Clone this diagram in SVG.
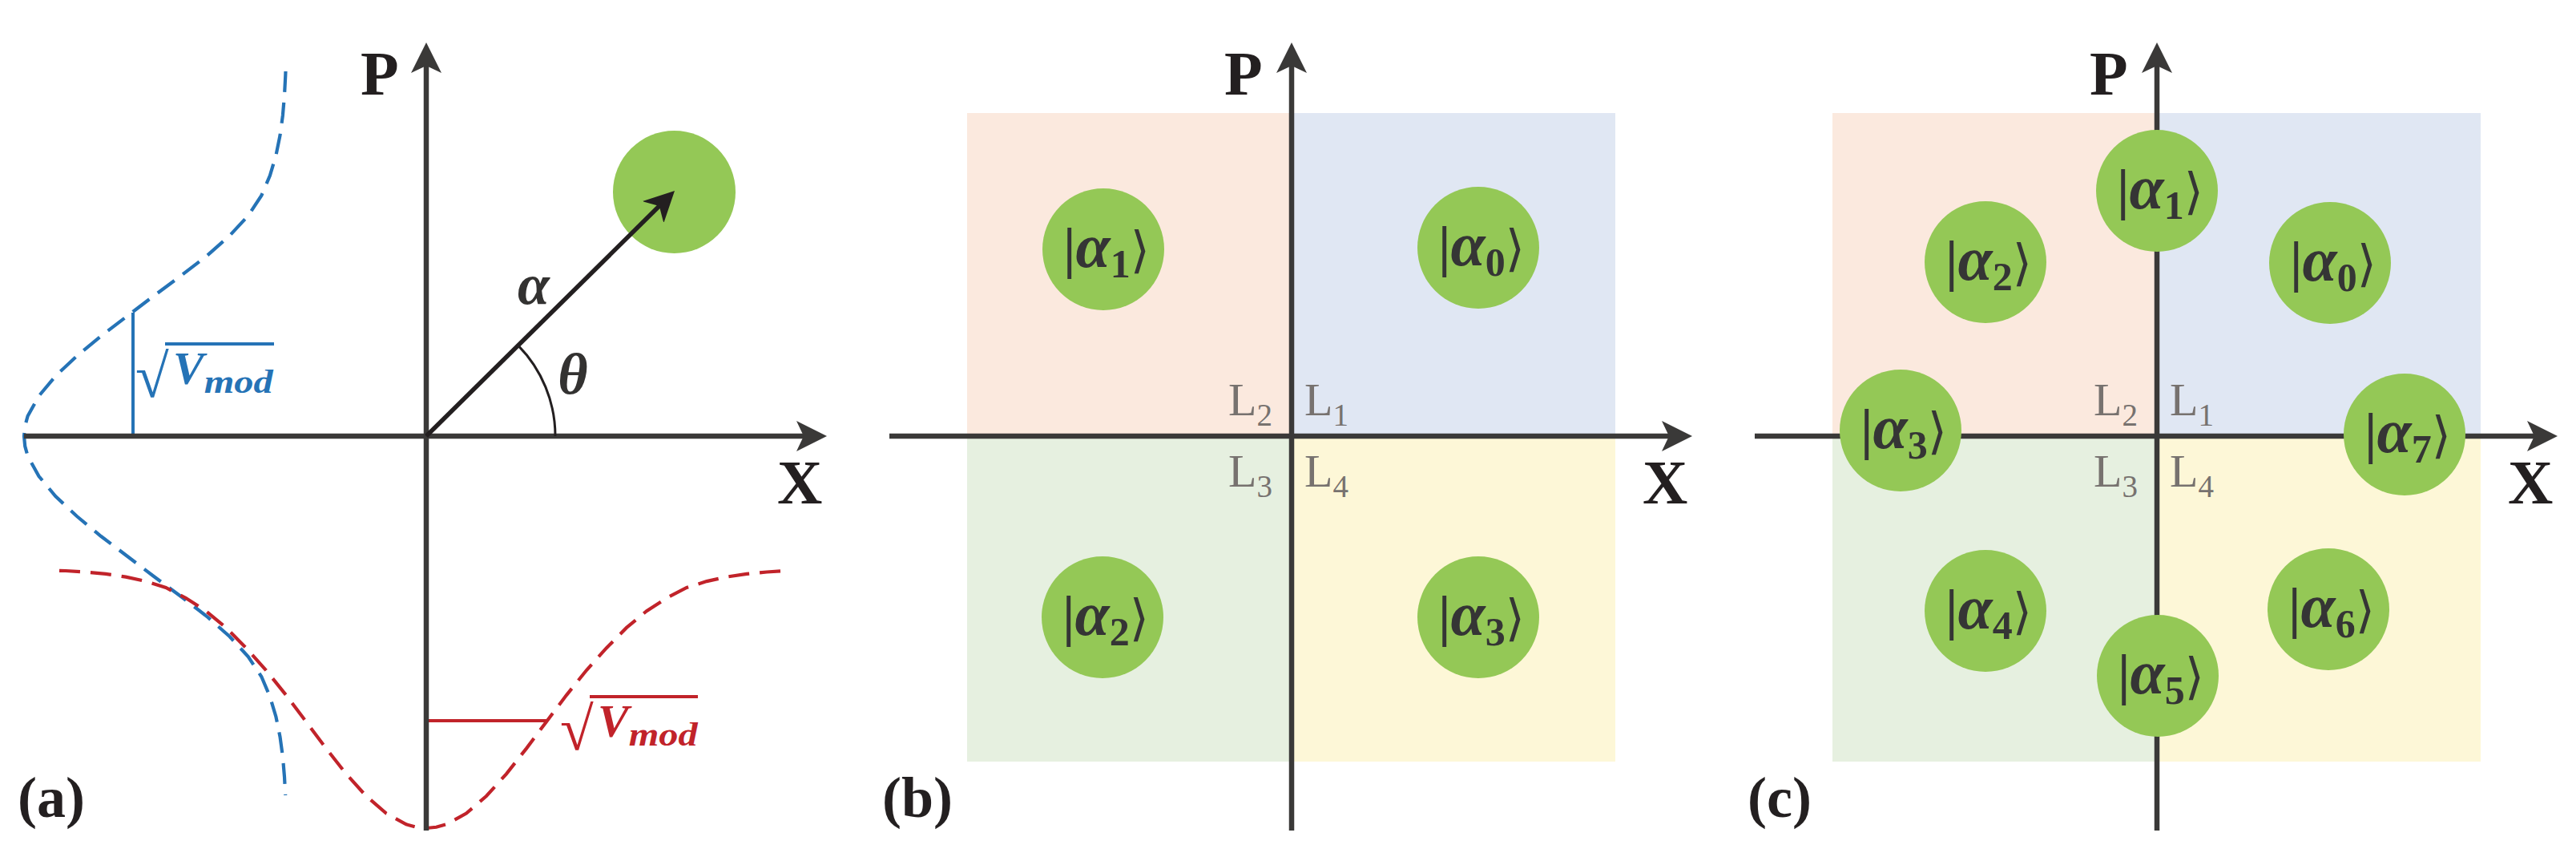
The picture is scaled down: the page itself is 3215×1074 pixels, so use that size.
<svg xmlns="http://www.w3.org/2000/svg" width="3215" height="1074" viewBox="0 0 3215 1074">
<defs>
<style>
.axis{stroke:#3A3938;stroke-width:6.5;fill:none}
.vec{stroke:#231F20;stroke-width:5.5;fill:none}
.arc{stroke:#231F20;stroke-width:3;fill:none}
.q1{fill:#E0E7F3}.q2{fill:#FBE9DE}.q3{fill:#E6F0E0}.q4{fill:#FDF7D7}
.st{fill:#94C856}
.ket{font-family:"Liberation Serif",serif;fill:#353535;text-anchor:middle}
.kb{font-size:70px;font-weight:bold}
.ka{font-style:italic;font-weight:bold;font-size:78px}
.ks{font-weight:bold;font-size:50px}
.kr{font-family:"DejaVu Serif",serif;font-size:62px}
.lab{font-family:"Liberation Serif",serif;font-weight:bold;font-size:78px;fill:#231F20}
.pl{font-family:"Liberation Serif",serif;font-weight:bold;font-size:72px;fill:#231F20}
.gr{font-family:"Liberation Serif",serif;font-weight:bold;font-style:italic;font-size:72px;fill:#333231;text-anchor:middle}
.Ll{font-family:"Liberation Serif",serif;font-size:58px;fill:#77726F}
.Ls{font-size:39px}
.blue{fill:#2573B6}.red{fill:#C1232A}
.vm{font-family:"Liberation Serif",serif;font-weight:bold;font-style:italic;font-size:58px}
.md{font-size:42px}
.rad{font-family:"Liberation Serif",serif;font-size:76px}
.bl{stroke:#2573B6;stroke-width:4;fill:none}
.rl{stroke:#C1232A;stroke-width:4;fill:none}
.bd{stroke:#2573B6;stroke-width:4.2;fill:none;stroke-dasharray:26 13}
.rd{stroke:#C1232A;stroke-width:4.2;fill:none;stroke-dasharray:26 13}
</style>
<marker id="ah" markerUnits="userSpaceOnUse" viewBox="-10 -20 40 40" markerWidth="40" markerHeight="40" refX="0" refY="0" orient="auto">
<path d="M29,0 L-9,-19 L0,0 L-9,19 Z" fill="#3A3938"/>
</marker>
<marker id="av" markerUnits="userSpaceOnUse" viewBox="-10 -20 40 40" markerWidth="40" markerHeight="40" refX="0" refY="0" orient="auto">
<path d="M27,0 L-11,-19 L0,0 L-11,19 Z" fill="#231F20"/>
</marker>
</defs>
<rect width="3215" height="1074" fill="#FFFFFF"/>

<!-- Panel (a) -->
<g id="panel-a">
<path id="blue-gauss" class="bd" d="M356.5,89 L356.3,94 L355,119 L352.9,144 L349.5,169 L344.4,194 L336.9,219 L326.3,244 L309.7,269 L286.6,294 L258.3,319 L225.8,344 L192,369 L159.1,394 L126.2,419 L96,444 L69.3,469 L48.5,494 L34.6,519 L31.2,531.5 L30,544 L31.2,556.5 L34.6,569 L48.5,594 L69.3,619 L96,644 L126.2,669 L159.1,694 L192,719 L225.8,744 L258.3,769 L286.6,794 L309.7,819 L326.3,844 L336.9,869 L344.4,894 L349.5,919 L352.9,944 L355,969 L356.2,992"/>
<path id="red-gauss" class="rd" d="M74,711.8 L82,712 L107,713.5 L132,715.9 L157,719.6 L182,725.1 L207,733 L232,746 L257,762.2 L282,782.9 L307,808.2 L332,836 L357,867.1 L382,900.2 L407,933.6 L432,965.3 L457,993 L482,1014.6 L507,1028.3 L519.5,1031.8 L532,1033 L544.5,1031.8 L557,1028.3 L582,1014.6 L607,993 L632,965.3 L657,933.6 L682,900.2 L707,867.1 L732,836 L757,808.2 L782,782.9 L807,762.2 L832,746 L857,733 L882,725.1 L907,719.6 L932,715.9 L957,713.5 L976,712.3"/>
<g id="state-a">
<circle class="st" cx="841.5" cy="239.5" r="76.5"/>
</g>
<g id="vmod-blue">
<line class="bl" x1="166" y1="544" x2="166" y2="390"/>
<text class="rad blue" x="169" y="495">√</text>
<line class="bl" x1="206" y1="429" x2="342" y2="429"/>
<text class="vm blue" x="216" y="479">V<tspan class="md" dy="11" textLength="86" lengthAdjust="spacingAndGlyphs">mod</tspan></text>
</g>
<g id="vmod-red">
<line class="rl" x1="532" y1="899" x2="683" y2="899"/>
<text class="rad red" x="699" y="935">√</text>
<line class="rl" x1="736" y1="869" x2="871" y2="869"/>
<text class="vm red" x="746" y="919">V<tspan class="md" dy="11" textLength="86" lengthAdjust="spacingAndGlyphs">mod</tspan></text>
</g>
<text class="lab" x="450" y="118">P</text>
<text class="lab" x="970" y="628">X</text>
<text class="gr" x="666" y="379">α</text>
<text class="gr" x="715" y="491">θ</text>
<text class="pl" x="22" y="1019">(a)</text>
</g>

<!-- Panel (b) backgrounds -->
<g id="panel-b-bg">
<rect class="q2" x="1207" y="141" width="405" height="403"/>
<rect class="q1" x="1612" y="141" width="404" height="403"/>
<rect class="q3" x="1207" y="544" width="405" height="406"/>
<rect class="q4" x="1612" y="544" width="404" height="406"/>
</g>
<!-- Panel (c) backgrounds -->
<g id="panel-c-bg">
<rect class="q2" x="2287" y="141" width="405" height="403"/>
<rect class="q1" x="2692" y="141" width="404" height="403"/>
<rect class="q3" x="2287" y="544" width="405" height="406"/>
<rect class="q4" x="2692" y="544" width="404" height="406"/>
</g>

<!-- Connectors: axes and vector -->
<g id="connectors">
<line class="axis" x1="30" y1="544" x2="1003" y2="544" marker-end="url(#ah)"/>
<line class="axis" x1="532" y1="1036" x2="532" y2="82" marker-end="url(#ah)"/>
<line class="vec" x1="532" y1="544" x2="822.8" y2="257" marker-end="url(#av)"/>
<path class="arc" d="M693,544 A161,161 0 0 0 646.6,430.9"/>
<line class="axis" x1="1110" y1="544" x2="2083" y2="544" marker-end="url(#ah)"/>
<line class="axis" x1="1612" y1="1036" x2="1612" y2="82" marker-end="url(#ah)"/>
<line class="axis" x1="2190" y1="544" x2="3163" y2="544" marker-end="url(#ah)"/>
<line class="axis" x1="2692" y1="1036" x2="2692" y2="82" marker-end="url(#ah)"/>
</g>

<!-- Panel (b) labels -->
<g id="panel-b-labels">
<text class="lab" x="1528" y="118">P</text>
<text class="lab" x="2050" y="628">X</text>
<text class="Ll" x="1533" y="518">L<tspan class="Ls" dy="13">2</tspan></text>
<text class="Ll" x="1628" y="518">L<tspan class="Ls" dy="13">1</tspan></text>
<text class="Ll" x="1533" y="607">L<tspan class="Ls" dy="13">3</tspan></text>
<text class="Ll" x="1628" y="607">L<tspan class="Ls" dy="13">4</tspan></text>
<text class="pl" x="1101" y="1019">(b)</text>
</g>
<!-- Panel (b) states -->
<g id="b-alpha1"><circle class="st" cx="1377" cy="311" r="76"/><text class="ket" x="1381" y="333"><tspan class="kb">|</tspan><tspan class="ka">α</tspan><tspan class="ks" dy="13">1</tspan><tspan class="kr" dy="-13">⟩</tspan></text></g>
<g id="b-alpha0"><circle class="st" cx="1845" cy="309" r="76"/><text class="ket" x="1849" y="331"><tspan class="kb">|</tspan><tspan class="ka">α</tspan><tspan class="ks" dy="13">0</tspan><tspan class="kr" dy="-13">⟩</tspan></text></g>
<g id="b-alpha2"><circle class="st" cx="1376" cy="770" r="76"/><text class="ket" x="1380" y="792"><tspan class="kb">|</tspan><tspan class="ka">α</tspan><tspan class="ks" dy="13">2</tspan><tspan class="kr" dy="-13">⟩</tspan></text></g>
<g id="b-alpha3"><circle class="st" cx="1845" cy="770" r="76"/><text class="ket" x="1849" y="792"><tspan class="kb">|</tspan><tspan class="ka">α</tspan><tspan class="ks" dy="13">3</tspan><tspan class="kr" dy="-13">⟩</tspan></text></g>

<!-- Panel (c) labels -->
<g id="panel-c-labels">
<text class="lab" x="2608" y="118">P</text>
<text class="lab" x="3130" y="628">X</text>
<text class="Ll" x="2613" y="518">L<tspan class="Ls" dy="13">2</tspan></text>
<text class="Ll" x="2708" y="518">L<tspan class="Ls" dy="13">1</tspan></text>
<text class="Ll" x="2613" y="607">L<tspan class="Ls" dy="13">3</tspan></text>
<text class="Ll" x="2708" y="607">L<tspan class="Ls" dy="13">4</tspan></text>
<text class="pl" x="2181" y="1019">(c)</text>
</g>
<!-- Panel (c) states -->
<g id="c-alpha1"><circle class="st" cx="2692" cy="238" r="76"/><text class="ket" x="2696" y="260"><tspan class="kb">|</tspan><tspan class="ka">α</tspan><tspan class="ks" dy="13">1</tspan><tspan class="kr" dy="-13">⟩</tspan></text></g>
<g id="c-alpha2"><circle class="st" cx="2478" cy="327" r="76"/><text class="ket" x="2482" y="349"><tspan class="kb">|</tspan><tspan class="ka">α</tspan><tspan class="ks" dy="13">2</tspan><tspan class="kr" dy="-13">⟩</tspan></text></g>
<g id="c-alpha0"><circle class="st" cx="2908" cy="328" r="76"/><text class="ket" x="2912" y="350"><tspan class="kb">|</tspan><tspan class="ka">α</tspan><tspan class="ks" dy="13">0</tspan><tspan class="kr" dy="-13">⟩</tspan></text></g>
<g id="c-alpha3"><circle class="st" cx="2372" cy="537" r="76"/><text class="ket" x="2376" y="559"><tspan class="kb">|</tspan><tspan class="ka">α</tspan><tspan class="ks" dy="13">3</tspan><tspan class="kr" dy="-13">⟩</tspan></text></g>
<g id="c-alpha7"><circle class="st" cx="3001" cy="542" r="76"/><text class="ket" x="3005" y="564"><tspan class="kb">|</tspan><tspan class="ka">α</tspan><tspan class="ks" dy="13">7</tspan><tspan class="kr" dy="-13">⟩</tspan></text></g>
<g id="c-alpha4"><circle class="st" cx="2478" cy="762" r="76"/><text class="ket" x="2482" y="784"><tspan class="kb">|</tspan><tspan class="ka">α</tspan><tspan class="ks" dy="13">4</tspan><tspan class="kr" dy="-13">⟩</tspan></text></g>
<g id="c-alpha6"><circle class="st" cx="2906" cy="760" r="76"/><text class="ket" x="2910" y="782"><tspan class="kb">|</tspan><tspan class="ka">α</tspan><tspan class="ks" dy="13">6</tspan><tspan class="kr" dy="-13">⟩</tspan></text></g>
<g id="c-alpha5"><circle class="st" cx="2693" cy="843" r="76"/><text class="ket" x="2697" y="865"><tspan class="kb">|</tspan><tspan class="ka">α</tspan><tspan class="ks" dy="13">5</tspan><tspan class="kr" dy="-13">⟩</tspan></text></g>
</svg>
